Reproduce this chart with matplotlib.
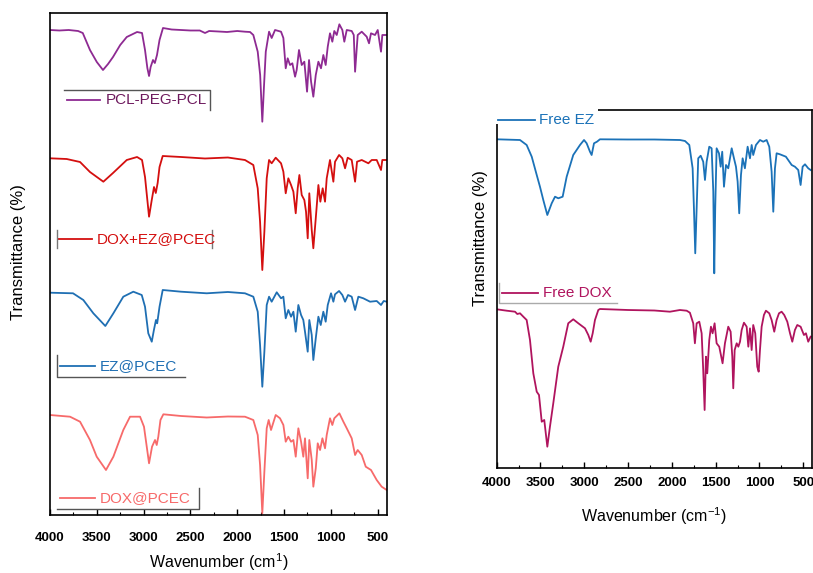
import matplotlib
matplotlib.use("Agg")
import matplotlib.pyplot as plt
from matplotlib.patches import Rectangle

plt.rcParams['font.family'] = ['Liberation Sans', 'DejaVu Sans']
plt.rcParams['mathtext.fontset'] = 'custom'
plt.rcParams['mathtext.rm'] = 'Liberation Sans'
plt.rcParams['mathtext.it'] = 'Liberation Sans'

# ---------------- data (transmittance, arbitrary stacked units) ----------------
pcl_w = [4000, 3900, 3800, 3700, 3650, 3573, 3500, 3434, 3380, 3327, 3250, 3180, 3070, 3017,
         2985, 2960, 2942, 2925, 2900, 2880, 2857, 2830, 2793, 2700, 2600, 2500, 2400, 2344,
         2300, 2200, 2109, 2000, 1917, 1863, 1828, 1781, 1755, 1732, 1715, 1695, 1660, 1632,
         1596, 1532, 1507, 1482, 1461, 1436, 1411, 1382, 1365, 1340, 1311, 1283, 1254, 1233,
         1211, 1187, 1161, 1133, 1105, 1080, 1055, 1033, 1009, 984, 963, 937, 909, 877, 856,
         830, 777, 755, 741, 713, 670, 617, 592, 571, 528, 499, 464, 450, 403]
pcl_t = [485, 484.5, 485, 484, 482, 465, 453, 445, 451, 458, 470, 478, 483, 482,
         465, 447, 439, 448, 455, 452, 460, 475, 487, 485.5, 485, 484.5, 484.5, 482,
         484, 483.5, 483, 484, 483.3, 483, 480, 463.3, 440, 393.3, 427, 463.3, 483.3, 477,
         485, 483.3, 477, 446.7, 456.7, 450, 451.7, 438.3, 445, 465, 450, 453.3, 423.3, 455,
         433.3, 418.3, 440, 453.3, 446.7, 460, 450, 468.3, 481.7, 473.3, 484, 480, 490.7, 485, 473.3,
         485, 484, 480, 443.3, 480, 483.3, 478.3, 471.7, 481.7, 480, 485, 463.3, 480, 480]

doxez_w = [4000, 3822, 3679, 3573, 3430, 3327, 3180, 3070, 3017, 2985, 2942, 2913, 2889, 2870,
           2850, 2830, 2796, 2600, 2344, 2100, 1917, 1828, 1781, 1756, 1732, 1710, 1685, 1660,
           1632, 1589, 1532, 1507, 1482, 1454, 1425, 1400, 1375, 1354, 1336, 1311, 1283, 1265,
           1247, 1230, 1204, 1187, 1161, 1133, 1112, 1087, 1062, 1044, 1009, 973, 955, 912, 877,
           848, 820, 777, 741, 720, 670, 599, 563, 510, 464, 450, 403]
doxez_t = [356.7, 356, 353, 343, 333.3, 342, 355, 358, 355, 338, 298.3, 315, 328, 322,
           332, 348, 359, 358, 356.5, 357.5, 355, 350, 326.7, 293.3, 245, 283.3, 336.7, 355,
           351.7, 357.3, 351.7, 343.3, 321.7, 336.7, 330, 323.3, 301.7, 326.7, 340, 320, 315, 303.3,
           276.7, 321.7, 285, 266.7, 296.7, 330, 313.3, 326.7, 313.3, 336.7, 355, 333.3, 353.3, 360, 356.7,
           346.7, 357.3, 355, 333.3, 353.3, 355, 351.7, 355, 355, 345, 355, 355]

ez_w = [4000, 3754, 3644, 3537, 3409, 3323, 3217, 3110, 3020, 2985, 2950, 2913, 2890, 2868,
        2855, 2830, 2796, 2600, 2326, 2100, 1917, 1828, 1781, 1756, 1732, 1710, 1685, 1660,
        1632, 1578, 1532, 1507, 1482, 1454, 1425, 1400, 1375, 1347, 1318, 1294, 1276, 1247,
        1230, 1204, 1187, 1161, 1133, 1108, 1080, 1055, 1033, 998, 973, 955, 912, 877, 848,
        816, 777, 741, 706, 653, 581, 510, 464, 435, 403]
ez_t = [222.3, 221.7, 215, 201.7, 189, 201.7, 218.3, 223.3, 220, 208.3, 181.7, 173.3, 185, 195,
        191.7, 208.3, 225, 223.3, 221.7, 223, 221.7, 218.3, 203.3, 170, 128.3, 163.3, 210, 218.3,
        213.3, 222.7, 216.7, 218.3, 196.7, 205, 198.3, 203.3, 183.3, 210, 200, 195, 183.3, 163.3,
        195, 180, 155, 176.7, 198.3, 190, 203.3, 193.3, 210, 221.7, 213.3, 220.7, 224, 220, 213.3,
        220, 218.3, 205, 218.3, 216.7, 213.3, 214, 210, 214, 213.3]

dox_w = [4000, 3786, 3679, 3573, 3501, 3402, 3323, 3217, 3145, 3038, 2996, 2942, 2910, 2878,
         2860, 2843, 2820, 2789, 2600, 2326, 2100, 1917, 1828, 1781, 1756, 1732, 1710, 1685,
         1664, 1639, 1589, 1543, 1507, 1482, 1454, 1425, 1400, 1375, 1347, 1318, 1294, 1276,
         1247, 1230, 1204, 1187, 1161, 1140, 1115, 1090, 1062, 1044, 1009, 984, 963, 909, 866,
         830, 777, 741, 713, 670, 627, 571, 510, 457, 403]
dox_t = [100, 98.3, 93.3, 75, 58.3, 45, 58.3, 85, 98.3, 98.3, 88.3, 51.7, 68.3, 75,
         70, 78.3, 95, 100.7, 99, 97.5, 98.5, 98.3, 95, 80, 50, 1.7, 43.3, 86.7,
         95, 85, 100, 96.7, 90, 73.3, 78.3, 73.3, 75, 58.3, 86.7, 73.3, 58.3, 76.7,
         36.7, 75, 55, 28.3, 46.7, 71.7, 65, 76.7, 66.7, 80, 96.7, 90, 96.7, 101.7, 93.3,
         86.7, 76.7, 60, 65, 60, 48.3, 45, 35, 28.3, 25]

fez_w = [4000, 3734, 3658, 3600, 3543, 3506, 3468, 3422, 3372, 3334, 3297, 3247, 3201, 3126,
         3049, 3003, 2973, 2935, 2916, 2889, 2855, 2821, 2500, 2200, 1908, 1850, 1801, 1763,
         1748, 1733, 1717, 1699, 1671, 1642, 1622, 1603, 1573, 1546, 1527, 1516, 1505, 1489,
         1462, 1443, 1425, 1405, 1382, 1356, 1317, 1291, 1268, 1249, 1231, 1211, 1192, 1166,
         1135, 1108, 1089, 1071, 1040, 994, 957, 918, 888, 861, 842, 823, 804, 766, 698, 632,
         595, 557, 530, 507, 480, 443, 416]
fez_t = [328.7, 328, 323, 311.3, 293, 281.3, 268, 253, 264.7, 271.3, 269.7, 271.3, 291.3, 313,
         323, 328, 324.7, 316.3, 313, 324.7, 326.3, 328.7, 328.5, 328.5, 328, 327, 323, 299.7,
         259.7, 214.7, 259.7, 309.7, 312.3, 306.3, 288, 306.3, 321.3, 319.7, 276.3, 194.7, 259.7, 319.7,
         314.7, 301.3, 316.3, 281.3, 303, 299.7, 319.7, 309.7, 301.3, 286.3, 254.7, 293, 309.7, 299.7,
         321.3, 309.7, 323, 313, 323, 328, 326.3, 328, 321.3, 296.3, 256.3, 299.7, 314.7, 313.7, 311.3, 303,
         301.3, 298, 283, 301.3, 303.7, 299.7, 298]

fdox_w = [4000, 3886, 3791, 3765, 3734, 3696, 3658, 3620, 3582, 3543, 3517, 3486, 3457, 3422,
          3392, 3354, 3297, 3240, 3183, 3126, 3068, 2992, 2954, 2927, 2904, 2878, 2840, 2821,
          2500, 2200, 2022, 1908, 1831, 1794, 1756, 1737, 1717, 1687, 1660, 1642, 1626, 1611,
          1596, 1573, 1554, 1535, 1512, 1489, 1459, 1421, 1394, 1356, 1329, 1310, 1299, 1283,
          1260, 1241, 1222, 1203, 1177, 1146, 1127, 1108, 1089, 1071, 1048, 1025, 1009, 994,
          975, 949, 926, 888, 861, 831, 804, 777, 747, 717, 682, 651, 625, 595, 568, 530, 492,
          469, 443, 416]
fdox_t = [158.7, 157.3, 156.3, 154, 154.7, 151.3, 148, 128, 94.7, 76.3, 73, 46.3, 48, 21.3,
          41.3, 64.7, 101.3, 121.3, 144.7, 148.7, 144.7, 139.7, 133, 126.3, 134.7, 148, 158, 159,
          158, 157.5, 156.3, 158, 157.3, 155.3, 144.7, 124.7, 144.7, 146.3, 134.7, 98, 58, 111.3,
          94.7, 128, 141.3, 134.7, 144.7, 124.7, 121.3, 104.7, 124.7, 141.3, 136.3, 111.3, 79.7, 118,
          124.7, 121.3, 126.3, 138, 145.3, 141.3, 121.3, 139.7, 118, 143, 134.7, 101.3, 96.3, 118,
          141.3, 153, 157.3, 154.7, 148, 136.3, 148, 154.7, 156.3, 153, 146.3, 134.7, 126.3, 138, 143, 141.3, 133,
          134.7, 126.3, 131.3]

tick_vals = [4000, 3500, 3000, 2500, 2000, 1500, 1000, 500]
tick_labels = ['4000', '3500', '3000', '2500', '2000', '1500', '1000', '500']

c_pcl, c_pcl_txt = '#8e2a92', '#6e1a5e'
c_doxez = '#d40f0f'
c_ez = '#1f6fb3'
c_dox = '#f76a6a'
c_fez = '#1b72b8'
c_fdox = '#b0145e'

# ---------------- figure ----------------
fig = plt.figure(figsize=(8.13, 5.73), dpi=100)
axL = fig.add_axes([50/813, 1-515/573, 337/813, 502/573])
axR = fig.add_axes([496.7/813, 1-468/573, 315.3/813, 358/573])

axL.plot(pcl_w, pcl_t, color=c_pcl, lw=1.3)
axL.plot(doxez_w, doxez_t, color=c_doxez, lw=1.3)
axL.plot(ez_w, ez_t, color=c_ez, lw=1.3)
axL.plot(dox_w, dox_t, color=c_dox, lw=1.3)
axL.set_ylim(0, 502)

axR.plot(fez_w, fez_t, color=c_fez, lw=1.3)
axR.plot(fdox_w, fdox_t, color=c_fdox, lw=1.3)
axR.set_ylim(0, 358)

for ax, pad in ((axL, 12), (axR, 6.5)):
    ax.set_xlim(4000, 400)
    ax.set_xticks(tick_vals)
    ax.set_xticklabels(tick_labels, fontsize=9.5, fontweight='bold')
    ax.set_xticks([3750, 3250, 2750, 2250, 1750, 1250, 750], minor=True)
    ax.tick_params(axis='x', which='major', direction='in', length=4, width=1, pad=pad)
    ax.tick_params(axis='x', which='minor', direction='in', length=2.5, width=0.8)
    ax.set_yticks([])
    for s in ax.spines.values():
        s.set_linewidth(1.2)

axL.set_xlabel('Wavenumber (cm$^{1}$)', fontsize=11.5)
axL.xaxis.set_label_coords(0.5, -0.072)
axL.set_ylabel('Transmittance (%)', fontsize=12)
axL.yaxis.set_label_coords(-0.072, 0.524)

axR.set_xlabel('Wavenumber (cm$^{-1}$)', fontsize=11.5)
axR.xaxis.set_label_coords(0.5, -0.105)
axR.set_ylabel('Transmittance (%)', fontsize=12)
axR.yaxis.set_label_coords(-0.027, 0.642)

# ---------------- legends (manual, partial frames) ----------------
def entry(ax, x0, x1, y, xt, label, lc, tc):
    ax.plot([x0, x1], [y, y], color=lc, lw=1.3, transform=ax.transAxes, clip_on=False)
    ax.text(xt, y, label, color=tc, fontsize=11, va='center', ha='left', transform=ax.transAxes)

def seg(ax, xs, ys, color='#555555', lw=1.0):
    ax.plot(xs, ys, color=color, lw=lw, transform=ax.transAxes, clip_on=False)

entry(axL, 0.050, 0.148, 0.827, 0.166, 'PCL-PEG-PCL', c_pcl, c_pcl_txt)
seg(axL, [0.042, 0.475, 0.475], [0.847, 0.847, 0.807])

entry(axL, 0.024, 0.125, 0.550, 0.139, 'DOX+EZ@PCEC', c_doxez, c_doxez)
seg(axL, [0.021, 0.021], [0.568, 0.532], color='#777777')
seg(axL, [0.481, 0.481], [0.568, 0.532], color='#777777')

entry(axL, 0.030, 0.134, 0.297, 0.148, 'EZ@PCEC', c_ez, c_ez)
seg(axL, [0.021, 0.021, 0.401], [0.319, 0.275, 0.275])

entry(axL, 0.030, 0.134, 0.034, 0.148, 'DOX@PCEC', c_dox, c_dox)
seg(axL, [0.021, 0.442, 0.442], [0.012, 0.012, 0.054])

axR.add_patch(Rectangle((-0.006, 0.962), 0.326, 0.06, transform=axR.transAxes,
                        facecolor='white', edgecolor='none', zorder=5, clip_on=False))
seg(axR, [0.0, 0.0], [1.0, 0.978], color='#888888')
entry(axR, 0.004, 0.121, 0.972, 0.134, 'Free EZ', c_fez, c_fez)
for art in axR.lines[-1:] + axR.texts[-1:]:
    art.set_zorder(6)

entry(axR, 0.017, 0.131, 0.488, 0.147, 'Free DOX', c_fdox, c_fdox)
seg(axR, [0.007, 0.007, 0.382], [0.517, 0.461, 0.461], color='#aaaaaa')

fig.savefig('out.png', dpi=100, facecolor='white')
